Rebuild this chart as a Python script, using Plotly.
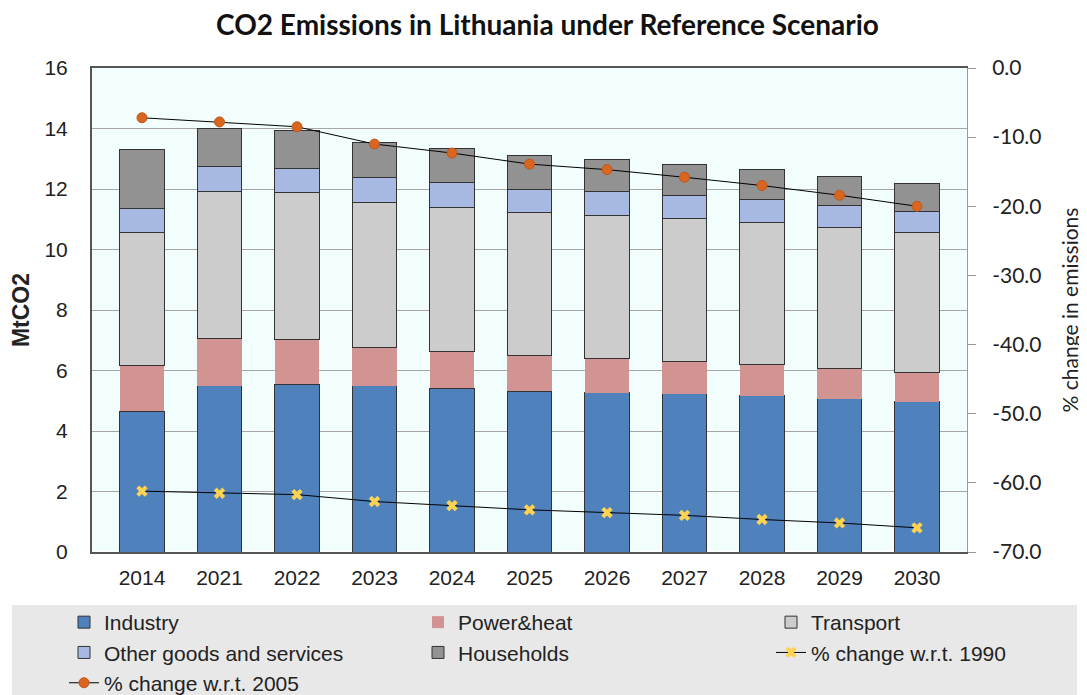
import plotly.graph_objects as go

years = ["2014", "2021", "2022", "2023", "2024", "2025", "2026", "2027", "2028", "2029", "2030"]

industry = [4.66, 5.49, 5.55, 5.49, 5.41, 5.32, 5.27, 5.23, 5.16, 5.06, 4.97]
power_heat = [1.50, 1.58, 1.48, 1.28, 1.22, 1.16, 1.13, 1.06, 1.04, 1.00, 0.97]
transport = [4.41, 4.85, 4.85, 4.80, 4.76, 4.74, 4.74, 4.74, 4.69, 4.67, 4.63]
other_goods = [0.78, 0.83, 0.79, 0.80, 0.81, 0.78, 0.78, 0.76, 0.75, 0.74, 0.70]
households = [1.97, 1.25, 1.25, 1.18, 1.13, 1.11, 1.07, 1.03, 1.00, 0.94, 0.91]

change_1990 = [-61.2, -61.5, -61.7, -62.7, -63.3, -63.9, -64.3, -64.7, -65.3, -65.8, -66.5]
change_2005 = [-7.2, -7.8, -8.5, -11.0, -12.3, -13.9, -14.7, -15.8, -17.0, -18.4, -20.0]

right_ticks = [0, -10, -20, -30, -40, -50, -60, -70]

# the page body adds an 8px margin, so the figure is a bit smaller than the window
W, H = 1079, 687
L, R, T, B = 84, 120, 60, 143
PW, PH = W - L - R, H - T - B

edge = dict(color="#333333", width=1)

fig = go.Figure()

# stacked bars (left axis); legend column given per trace
bars = [
    ("Industry", industry, "#4F81BD", edge, "legend"),
    ("Power&heat", power_heat, "#D29393", dict(color="#D29393", width=0), "legend2"),
    ("Transport", transport, "#CCCCCC", edge, "legend3"),
    ("Other goods and services", other_goods, "#A7B8E2", edge, "legend"),
    ("Households", households, "#929292", edge, "legend2"),
]
for name, vals, col, ln, lg in bars:
    fig.add_trace(go.Bar(x=years, y=vals, name=name, legend=lg,
                         marker=dict(color=col, line=ln)))

# percentage change lines (right axis)
fig.add_trace(go.Scatter(
    x=years, y=change_1990, name="% change w.r.t. 1990", yaxis="y2", legend="legend3",
    mode="lines+markers", line=dict(color="#000000", width=1),
    marker=dict(symbol="x", size=10, color="#FFD34F", line=dict(width=0)),
))
fig.add_trace(go.Scatter(
    x=years, y=change_2005, name="% change w.r.t. 2005", yaxis="y2", legend="legend",
    mode="lines+markers", line=dict(color="#000000", width=1),
    marker=dict(symbol="circle", size=10, color="#D9661F", line=dict(color="#C0561A", width=1)),
))

# grey legend panel
fig.add_shape(type="rect", xref="paper", yref="paper",
              x0=(4 - L) / PW, x1=(1069 - L) / PW,
              y0=(H - B - 687) / PH, y1=(H - B - 597) / PH,
              fillcolor="#E8E8E8", line=dict(width=0), layer="below")

tick_font = dict(family="Liberation Sans, Arial, sans-serif", size=21, color="#222222")
legend_font = dict(family="Liberation Sans, Arial, sans-serif", size=21, color="#222222")


def legend_at(px):
    return dict(orientation="v", xref="paper", yref="container",
                x=(px - L) / PW, y=1 - 594 / H, xanchor="left", yanchor="top",
                bgcolor="rgba(0,0,0,0)", traceorder="normal", tracegroupgap=0,
                font=legend_font)


fig.update_layout(
    width=W, height=H,
    margin=dict(l=L, r=R, t=T, b=B),
    barmode="stack", bargap=0.43,
    paper_bgcolor="white", plot_bgcolor="#F2FEFE",
    font=dict(family="Liberation Sans, Arial, sans-serif", size=18, color="#222222"),
    title=dict(text="<b>CO2 Emissions in Lithuania under Reference Scenario</b>",
               x=0.5, xanchor="center", y=1 - 17 / H, yanchor="middle",
               font=dict(family="Lato, Open Sans, sans-serif", size=28, color="#111111")),
    xaxis=dict(showline=True, linecolor="#555555", linewidth=2, mirror=True,
               ticks="outside", ticklen=6, tickcolor="rgba(0,0,0,0)", showgrid=False,
               tickfont=tick_font, automargin=False),
    yaxis=dict(range=[0, 16], dtick=2, showgrid=True, gridcolor="#A6A6A6", gridwidth=1,
               showline=True, linecolor="#555555", linewidth=2,
               ticks="outside", ticklen=18, tickcolor="rgba(0,0,0,0)",
               tickfont=tick_font, automargin=False,
               title=dict(text="<b>MtCO2</b>", standoff=10,
                          font=dict(family="Liberation Sans, Arial, sans-serif", size=23))),
    yaxis2=dict(range=[-70, 0], overlaying="y", side="right",
                tickvals=right_ticks, ticktext=[f"{v:.1f}" for v in right_ticks],
                showgrid=False, zeroline=False, showline=True, linecolor="#999999",
                linewidth=1, ticks="outside", ticklen=8, tickcolor="#999999",
                ticklabelstandoff=12, automargin=False,
                tickfont=dict(family="Lato, Open Sans, sans-serif", size=21, color="#222222"),
                title=dict(text="% change in emissions", standoff=22,
                           font=dict(family="Lato, Open Sans, sans-serif", size=21))),
    legend=legend_at(56),
    legend2=legend_at(410),
    legend3=legend_at(763),
)

fig.write_html("out.html")
